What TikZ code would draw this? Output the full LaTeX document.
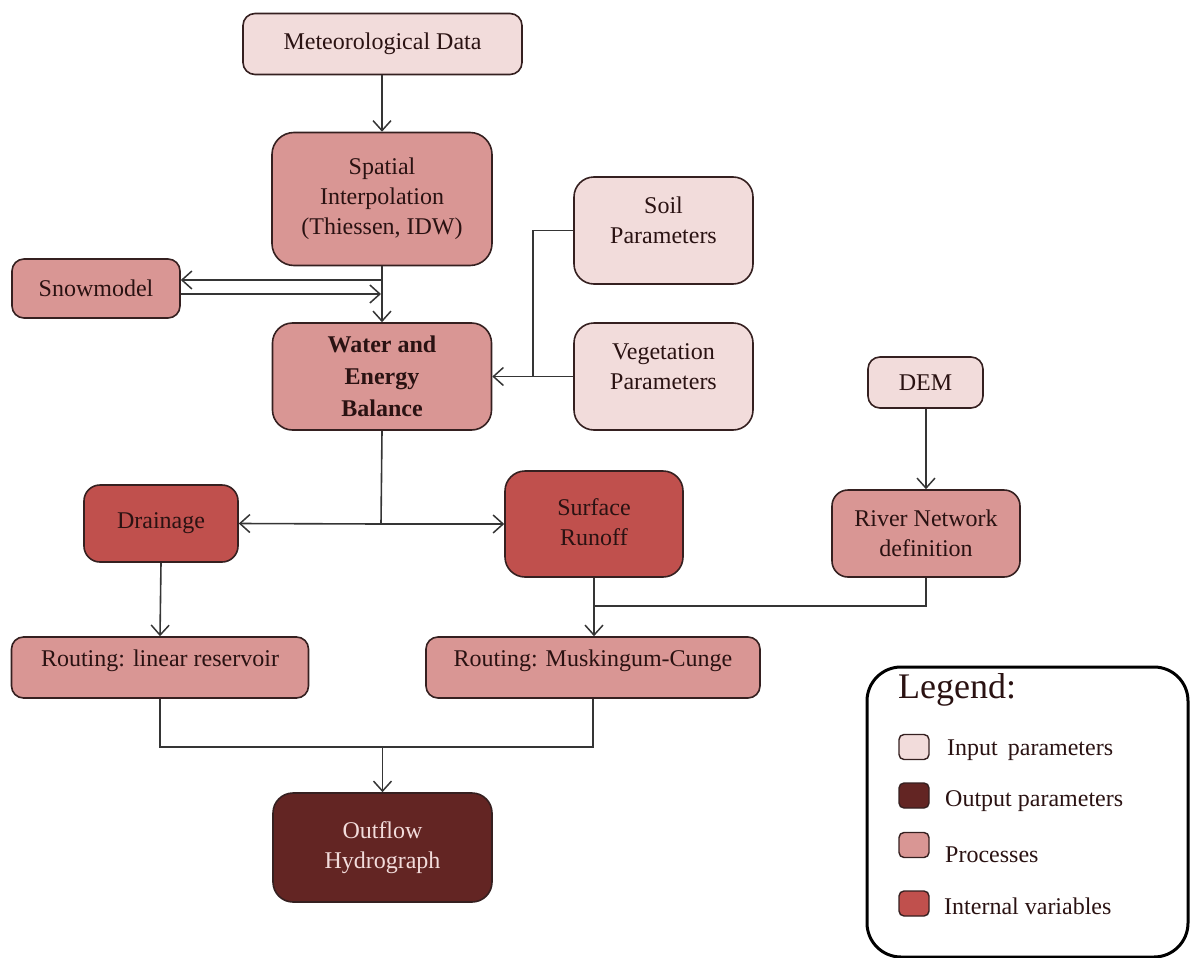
\documentclass[tikz,border=0pt]{standalone}
\usepackage{fontspec}
\setmainfont{Liberation Serif}
\usetikzlibrary{arrows.meta}
\definecolor{cin}{HTML}{F2DCDB}
\definecolor{cproc}{HTML}{D99694}
\definecolor{cint}{HTML}{C0504D}
\definecolor{cout}{HTML}{632523}
\definecolor{ctext}{HTML}{2A1212}
\definecolor{cline}{HTML}{353535}
\definecolor{cborder}{HTML}{352020}
\begin{document}
\begin{tikzpicture}[x=1pt,y=-1pt,
  box/.style={draw=cborder,line width=1.6pt,rounded corners=12pt,inner sep=0pt,
    align=center,text=ctext,font=\fontsize{24}{30}\selectfont},
  inbox/.style={box,fill=cin},
  procbox/.style={box,fill=cproc},
  intbox/.style={box,fill=cint},
  outbox/.style={box,fill=cout,text=cin},
  txt/.style={align=center,text=ctext,font=\fontsize{24}{30}\selectfont,inner sep=0pt},
  arr/.style={draw=cline,line width=1.6pt,-{Straight Barb[length=10pt,width=18pt,line width=1.5pt]}},
  ln/.style={draw=cline,line width=1.6pt},
  sw/.style={draw=cborder,line width=1.4pt,rounded corners=5pt,minimum width=30pt,minimum height=25pt,inner sep=0pt},
  legtxt/.style={anchor=base west,text=ctext,font=\fontsize{24}{28}\selectfont,inner sep=0pt}
]
\useasboundingbox (0,0) rectangle (1194,958);

% nodes
\node[inbox,minimum width=279pt,minimum height=61pt] (met) at (382.5,44) {Meteorological Data};
\node[procbox,rounded corners=22pt,minimum width=220pt,minimum height=133pt] (spat) at (382,199) {Spatial\\Interpolation\\(Thiessen, IDW)};
\node[procbox,minimum width=168pt,minimum height=59pt] (snow) at (96,288.5) {Snowmodel};
\node[procbox,rounded corners=20pt,minimum width=219pt,minimum height=107pt,font=\fontsize{24}{32}\selectfont\bfseries] (water) at (382,376.5) {Water and\\Energy\\Balance};
\node[inbox,rounded corners=20pt,minimum width=179pt,minimum height=107pt] (soil) at (663.5,230.5) {};
\node[txt] (soilt) at (663.5,220) {Soil\\Parameters};
\node[inbox,rounded corners=20pt,minimum width=179pt,minimum height=107pt] (veg) at (663.5,376.5) {};
\node[txt] (vegt) at (663.5,367) {Vegetation\\Parameters};
\node[inbox,minimum width=115pt,minimum height=51pt] (dem) at (925.5,382.5) {DEM};
\node[procbox,rounded corners=16pt,minimum width=188pt,minimum height=87pt] (river) at (926,533.5) {River Network\\definition};
\node[intbox,rounded corners=16pt,minimum width=154pt,minimum height=77pt] (drain) at (161,523.5) {Drainage};
\node[intbox,rounded corners=20pt,minimum width=178pt,minimum height=106pt] (surf) at (594,524) {};
\node[txt] (surft) at (594,522) {Surface\\Runoff};
\node[procbox,minimum width=297pt,minimum height=61pt] (rlin) at (160,667.5) {};
\node[txt] (rlint) at (160,661) {Routing: linear reservoir};
\node[procbox,minimum width=334pt,minimum height=61pt] (rmus) at (593,667.5) {};
\node[txt] (rmust) at (593,661) {Routing: Muskingum-Cunge};
\node[outbox,rounded corners=20pt,minimum width=219pt,minimum height=109pt] (out) at (382.5,847.5) {Outflow\\Hydrograph};

% helper coordinates
\coordinate (sA) at (381,280);
\coordinate (sB) at (381,294);
\coordinate (vx) at (533,230.5);
\coordinate (vy) at (533,376.5);
\coordinate (wj) at (381,524);
\coordinate (rj) at (926,606);
\coordinate (sj) at (594,606);
\coordinate (bl) at (160,747);
\coordinate (br) at (593,747);
\coordinate (bm) at (382.5,747);

% connectors
\draw[arr] (met.south -| spat.north) -- (spat.north);
\draw[arr] (spat.south) -- (water.north);
\draw[arr] (sA) -- (snow.east |- sA);
\draw[arr] (snow.east |- sB) -- (sB);
\draw[ln] (soil.west) -- (vx) -- (vy);
\draw[arr] (veg.west) -- (water.east);
\draw[ln] (water.south) -- (wj);
\draw[arr] (wj) -- (drain.east);
\draw[arr] (wj) -- (surf.west |- wj);
\draw[arr] (dem.south -| river.north) -- (river.north);
\draw[arr] (drain.south) -- (rlin.north);
\draw[arr] (surf.south) -- (rmus.north -| surf.south);
\draw[ln] (river.south) -- (rj) -- (sj);
\draw[ln] (rlin.south) -- (bl) -- (br) -- (rmus.south);
\draw[arr] (bm) -- (out.north);

% legend
\node[draw=black,line width=3pt,rounded corners=34pt,minimum width=321pt,minimum height=290pt,inner sep=0pt] (leg) at (1027.5,812) {};
\node[legtxt,font=\fontsize{36}{40}\selectfont] (legt) at (898,698) {Legend:};
\node[sw,fill=cin] (sw1) at (914,747) {};
\node[sw,fill=cout] (sw2) at (914,795.5) {};
\node[sw,fill=cproc] (sw3) at (914,845) {};
\node[sw,fill=cint] (sw4) at (914,903.5) {};
\node[legtxt] (lt1) at (947,755) {Input\, parameters};
\node[legtxt] (lt2) at (945,806) {Output parameters};
\node[legtxt] (lt3) at (945,862) {Processes};
\node[legtxt] (lt4) at (944,914) {Internal variables};
\end{tikzpicture}
\end{document}
